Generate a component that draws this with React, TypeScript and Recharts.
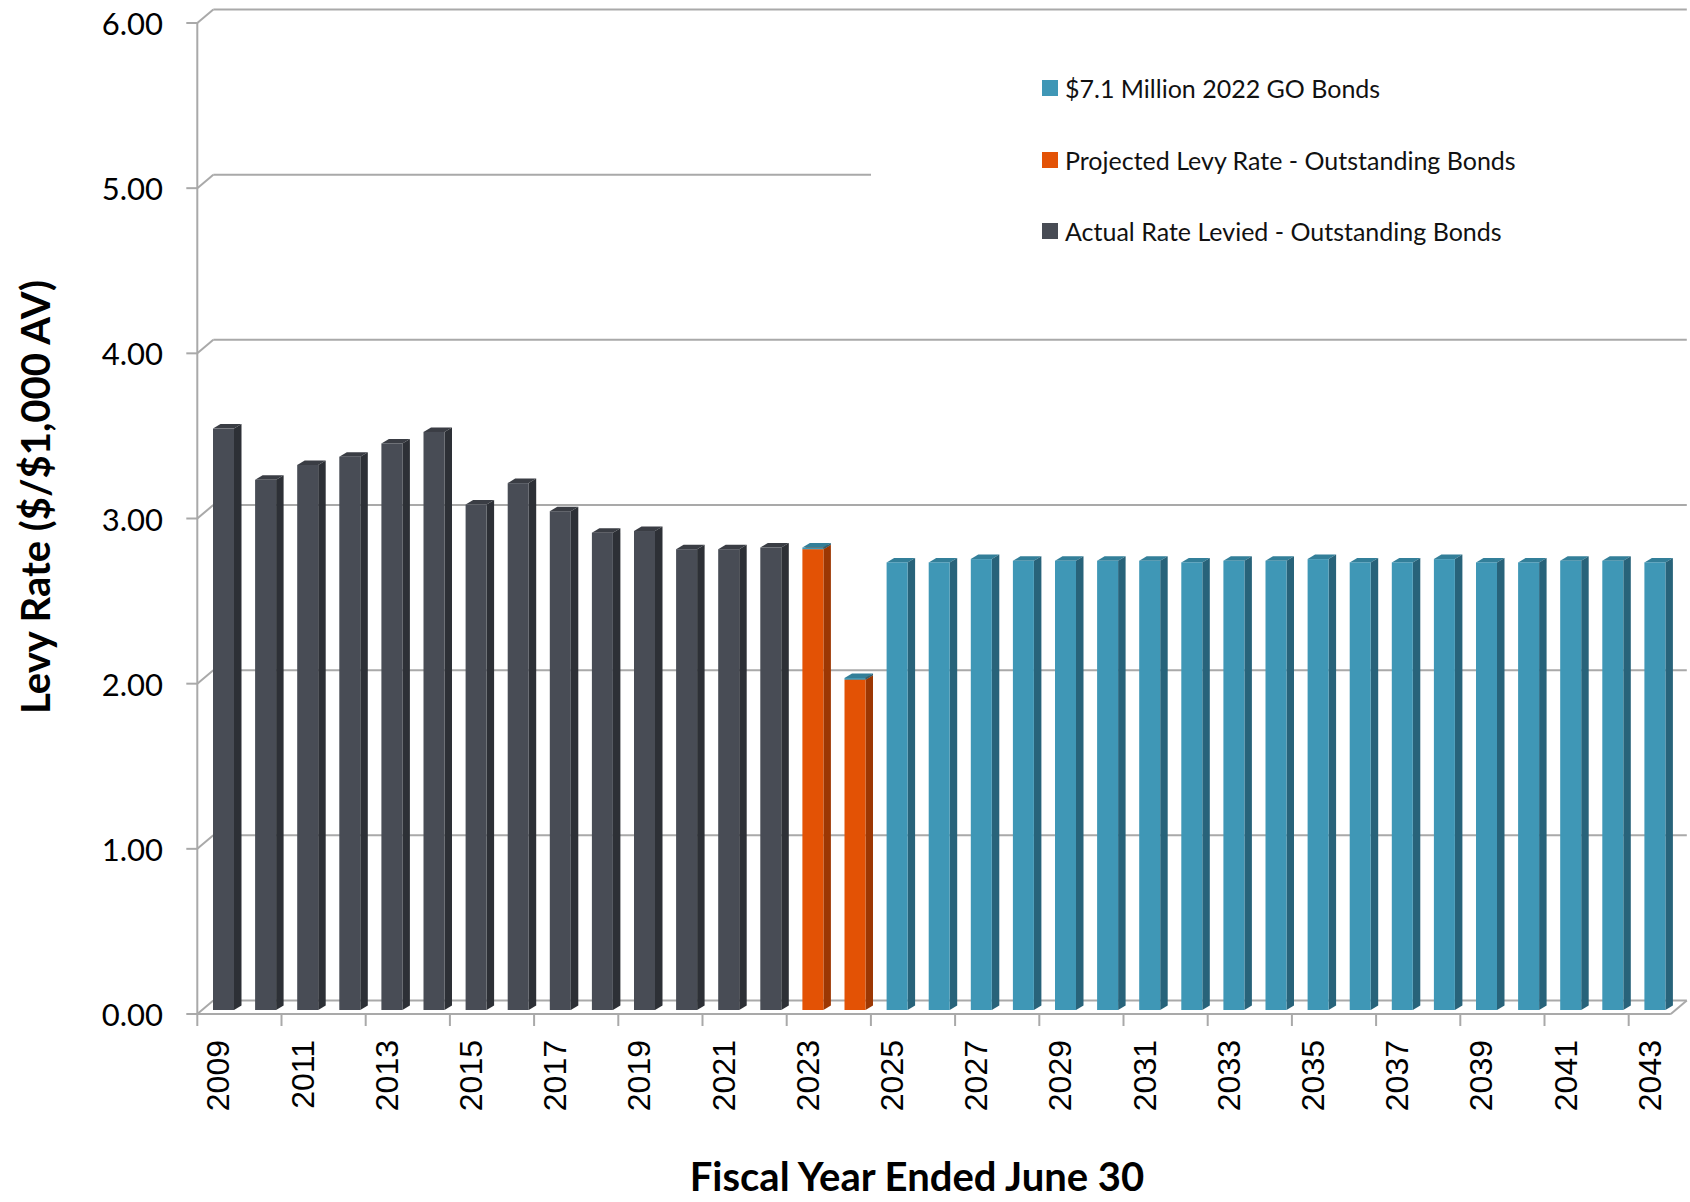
import React from 'react';
import { BarChart, Bar, XAxis, YAxis, CartesianGrid, Legend } from 'recharts';

// fiscal years, one bar each
const years = [
    '2009', '2010', '2011', '2012', '2013', '2014', '2015', '2016', '2017', '2018',
    '2019', '2020', '2021', '2022', '2023', '2024', '2025', '2026', '2027', '2028',
    '2029', '2030', '2031', '2032', '2033', '2034', '2035', '2036', '2037', '2038',
    '2039', '2040', '2041', '2042', '2043',
];

// 2009 - 2022
const actualRates = [3.52, 3.21, 3.30, 3.35, 3.43, 3.50, 3.06, 3.19, 3.02, 2.89, 2.90, 2.79, 2.79, 2.80];
// 2023 - 2024
const projectedRates = [2.79, 2.00];
// 2023 - 2043
const bondRates = [
    0.01, 0.01, 2.71, 2.71, 2.73, 2.72, 2.72, 2.72, 2.72, 2.71, 2.72,
    2.72, 2.73, 2.71, 2.71, 2.73, 2.71, 2.71, 2.72, 2.72, 2.71,
];

const yTicks = [0, 1, 2, 3, 4, 5, 6];

const seriesNames = {
    bonds: '$7.1 Million 2022 GO Bonds',
    projected: 'Projected Levy Rate - Outstanding Bonds',
    actual: 'Actual Rate Levied - Outstanding Bonds',
};

const data = years.map((year, i) => ({
    year,
    actual: i < actualRates.length ? actualRates[i] : null,
    projected: i >= 14 && i - 14 < projectedRates.length ? projectedRates[i - 14] : null,
    bonds: i >= 14 ? bondRates[i - 14] : null,
}));

// layout (px)
const W = 1690;
const H = 1202;
const PLOT_LEFT = 202;
const PLOT_RIGHT = 1675.5;
const PLOT_TOP = 19;
const PLOT_BOTTOM = 1010;
// 3D offsets of front plane and back wall relative to the bar plane
const FRONT = { dx: -4.7, dy: 4 };
const BACK = { dx: 11.3, dy: -9.5 };
// depth of each bar
const BAR_DX = 7.5;
const BAR_DY = 4.5;
const GRID = '#a9a9a9';

const colors = {
    actual: { front: '#484c55', side: '#2d3036', top: '#3a3d44' },
    projected: { front: '#e35205', side: '#9c3703', top: '#c24604' },
    bonds: { front: '#3f97b6', side: '#28637a', top: '#337f99' },
};

const make3DBar = (key: 'actual' | 'projected' | 'bonds') => (props: any) => {
    const { x, y, width, height, payload } = props;
    const c = colors[key];
    if (payload == null || payload[key] == null || !(height > 0)) return <g />;
    const r = x + width;
    return (
        <g>
            <polygon
                points={`${x},${y} ${x + BAR_DX},${y - BAR_DY} ${r + BAR_DX},${y - BAR_DY} ${r},${y}`}
                fill={c.top}
            />
            <polygon
                points={`${r},${y} ${r + BAR_DX},${y - BAR_DY} ${r + BAR_DX},${y + height - BAR_DY} ${r},${y + height}`}
                fill={c.side}
            />
            <rect x={x} y={y} width={width} height={height} fill={c.front} />
        </g>
    );
};

// back wall gridlines + the little diagonal to the front axis, floor at zero
const gridLine = (props: any) => {
    const { y1, index } = props;
    const fy = y1 + FRONT.dy;
    const by = y1 + BACK.dy;
    const fx = PLOT_LEFT + FRONT.dx;
    const bx = PLOT_LEFT + BACK.dx;
    const isFloor = Math.abs(y1 - PLOT_BOTTOM) < 1;
    return (
        <g key={`grid-${index}`} stroke={GRID} strokeWidth={2} fill="none">
            <line x1={bx} y1={by} x2={PLOT_RIGHT + BACK.dx} y2={by} />
            <line x1={fx} y1={fy} x2={bx} y2={by} />
            <line x1={fx - 11} y1={fy} x2={fx} y2={fy} />
            {isFloor && (
                <>
                    <line x1={fx} y1={fy} x2={PLOT_RIGHT + FRONT.dx} y2={fy} />
                    <line x1={PLOT_RIGHT + FRONT.dx} y1={fy} x2={PLOT_RIGHT + BACK.dx} y2={by} />
                    <line x1={fx} y1={fy} x2={fx} y2={PLOT_TOP + FRONT.dy} />
                </>
            )}
        </g>
    );
};

const YTick = (props: any) => {
    const { y, payload } = props;
    return (
        <text
            x={PLOT_LEFT - 39}
            y={y + FRONT.dy}
            textAnchor="end"
            dominantBaseline="central"
            fontFamily="Lato, sans-serif"
            fontSize={31}
            fill="#000"
        >
            {Number(payload.value).toFixed(2)}
        </text>
    );
};

const XTick = (props: any) => {
    const { x, payload } = props;
    const band = (PLOT_RIGHT - PLOT_LEFT) / years.length;
    const tx = x - band / 2 + FRONT.dx;
    const fy = PLOT_BOTTOM + FRONT.dy;
    return (
        <g>
            <line x1={tx} y1={fy} x2={tx} y2={fy + 12} stroke={GRID} strokeWidth={2} />
            <text
                transform={`translate(${x + FRONT.dx + 11},${fy + 26}) rotate(-90)`}
                textAnchor="end"
                fontFamily="'Liberation Sans', Arial, sans-serif"
                fontSize={32}
                fill="#000"
            >
                {payload.value}
            </text>
        </g>
    );
};

const legendOrder = ['bonds', 'projected', 'actual'];

const renderLegend = (props: any) => {
    const items = legendOrder
        .map((k) => (props.payload || []).find((p: any) => p.dataKey === k))
        .filter(Boolean);
    return (
        <div style={{ paddingTop: 12 }}>
            {items.map((item: any) => (
                <div
                    key={item.dataKey}
                    style={{ display: 'flex', alignItems: 'center', height: 71.7, paddingLeft: 171 }}
                >
                    <span
                        style={{
                            width: 16,
                            height: 16,
                            background: colors[item.dataKey as 'actual'].front,
                            marginRight: 7,
                            display: 'inline-block',
                        }}
                    />
                    <span style={{ fontFamily: 'Lato, sans-serif', fontSize: 25, color: '#111' }}>
                        {item.value}
                    </span>
                </div>
            ))}
        </div>
    );
};

export default function App() {
    return (
        <div style={{ position: 'absolute', left: 0, top: 0, width: W, height: H, background: '#fff' }}>
            <BarChart
                width={W}
                height={H}
                data={data}
                margin={{ top: PLOT_TOP, right: W - PLOT_RIGHT, left: PLOT_LEFT - 60, bottom: H - PLOT_BOTTOM - 100 }}
                barCategoryGap={0}
            >
                <CartesianGrid vertical={false} horizontal={gridLine} />
                <XAxis
                    dataKey="year"
                    height={100}
                    interval={1}
                    axisLine={false}
                    tickLine={false}
                    tick={<XTick />}
                    label={{
                        content: () => (
                            <text
                                x={917}
                                y={1191}
                                textAnchor="middle"
                                fontFamily="Lato, sans-serif"
                                fontWeight="bold"
                                fontSize={40}
                                fill="#000"
                            >
                                Fiscal Year Ended June 30
                            </text>
                        ),
                    }}
                />
                <YAxis
                    width={60}
                    domain={[0, 6]}
                    ticks={yTicks}
                    axisLine={false}
                    tickLine={false}
                    tick={<YTick />}
                    label={{
                        content: () => (
                            <text
                                transform="translate(50,497) rotate(-90)"
                                textAnchor="middle"
                                fontFamily="Lato, sans-serif"
                                fontWeight="bold"
                                fontSize={40}
                                fill="#000"
                            >
                                Levy Rate ($/$1,000 AV)
                            </text>
                        ),
                    }}
                />
                <Legend
                    layout="vertical"
                    align="center"
                    verticalAlign="middle"
                    content={renderLegend}
                    wrapperStyle={{ left: 871, top: 40, width: 816, height: 250, background: '#fff' }}
                />
                <Bar dataKey="actual" name={seriesNames.actual} stackId="a" barSize={21} fill={colors.actual.front} shape={make3DBar('actual')} isAnimationActive={false} />
                <Bar dataKey="projected" name={seriesNames.projected} stackId="a" barSize={21} fill={colors.projected.front} shape={make3DBar('projected')} isAnimationActive={false} />
                <Bar dataKey="bonds" name={seriesNames.bonds} stackId="a" barSize={21} fill={colors.bonds.front} shape={make3DBar('bonds')} isAnimationActive={false} />
            </BarChart>
        </div>
    );
}
